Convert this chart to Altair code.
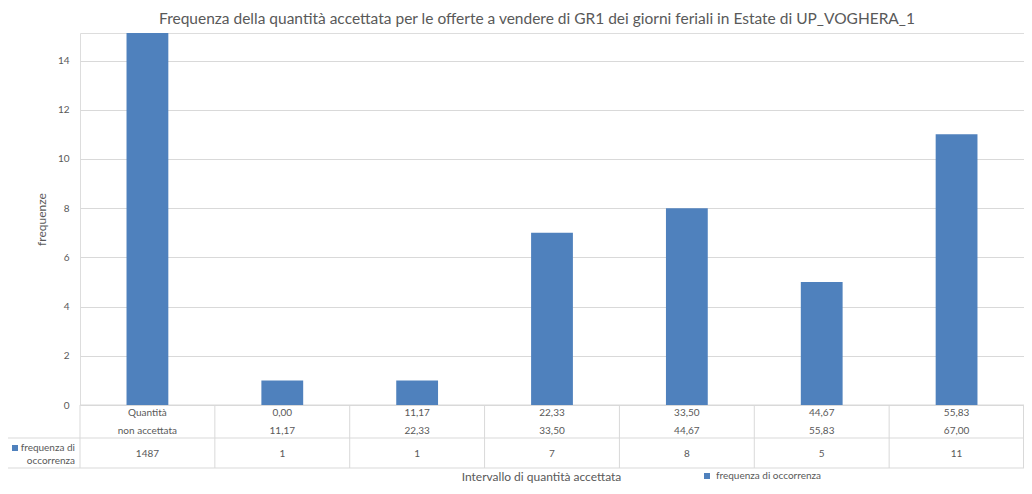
import altair as alt
import pandas as pd

# ---- data ----
cats = ["c0", "c1", "c2", "c3", "c4", "c5", "c6"]
lo_labels = ["Quantità", "0,00", "11,17", "22,33", "33,50", "44,67", "55,83"]
hi_labels = ["non accettata", "11,17", "22,33", "33,50", "44,67", "55,83", "67,00"]
counts = [1487, 1, 1, 7, 8, 5, 11]
series_name = "frequenza di occorrenza"
y_ticks = [0, 2, 4, 6, 8, 10, 12, 14]

df = pd.DataFrame({"cat": cats, "lo": lo_labels, "hi": hi_labels,
                   "n": counts, "series": [series_name] * len(cats)})
one = pd.DataFrame({"series": [series_name]})

W, H = 944, 372
FONT = "Lato"
TXT = "#595959"
GRID = "#d9d9d9"
BLUE = "#4f81bd"

xenc = alt.X("cat:N", sort=cats,
             scale=alt.Scale(paddingInner=0, paddingOuter=0),
             axis=alt.Axis(labels=False, ticks=False, domain=False, grid=False,
                           title="Intervallo di quantità accettata",
                           titleFont=FONT, titleFontSize=12, titleFontWeight="normal",
                           titleColor=TXT, titlePadding=66, titleX=461))

base = alt.Chart(df)

bars = base.mark_bar(clip=True, width=alt.RelativeBandSize(0.31)).encode(
    x=xenc,
    y=alt.Y("n:Q", scale=alt.Scale(domain=[0, 15.12]),
            axis=alt.Axis(values=y_ticks, title="frequenze", titleFont=FONT,
                          titleFontSize=12, titleFontWeight="normal", titleColor=TXT,
                          titlePadding=9, labelFont=FONT, labelFontSize=10,
                          labelColor=TXT, labelPadding=11, ticks=False, domain=False,
                          grid=True, gridColor=GRID)),
    color=alt.Color("series:N", scale=alt.Scale(range=[BLUE]),
                    legend=alt.Legend(orient="none", legendX=622, legendY=H + 66,
                                      title=None, symbolType="square", symbolSize=36,
                                      symbolStrokeWidth=0,
                                      labelFont=FONT, labelFontSize=10, labelColor=TXT)),
)

txt = dict(font=FONT, fontSize=10, color=TXT)
head1 = base.mark_text(**txt).encode(x=alt.X("cat:N", sort=cats), y=alt.value(H + 8), text="lo:N")
head2 = base.mark_text(**txt).encode(x=alt.X("cat:N", sort=cats), y=alt.value(H + 26), text="hi:N")
cnt = base.mark_text(**txt).encode(x=alt.X("cat:N", sort=cats), y=alt.value(H + 49),
                                   text=alt.Text("n:Q", format="d"))

vlines = base.mark_rule(color=GRID, strokeWidth=1).encode(
    x=alt.X("cat:N", sort=cats, bandPosition=0), y=alt.value(H), y2=alt.value(H + 63))

oc = alt.Chart(one)
vright = oc.mark_rule(color=GRID).encode(x=alt.value(W - 0.5), y=alt.value(H), y2=alt.value(H + 63))
h0 = oc.mark_rule(color=GRID).encode(x=alt.value(0), x2=alt.value(W), y=alt.value(H))
h1 = oc.mark_rule(color=GRID).encode(x=alt.value(-72), x2=alt.value(W), y=alt.value(H + 33))
h2 = oc.mark_rule(color=GRID).encode(x=alt.value(-72), x2=alt.value(W), y=alt.value(H + 63))

lsq = oc.mark_square(color=BLUE, size=36, opacity=1).encode(x=alt.value(-65), y=alt.value(H + 43))
ltxt = oc.mark_text(font=FONT, fontSize=10, color=TXT, align="right", lineHeight=13,
                    baseline="middle").encode(
    x=alt.value(-5), y=alt.value(H + 43), text=alt.value(["frequenza di", "occorrenza"]))

chart = alt.layer(h0, h1, h2, vlines, vright, bars, head1, head2, cnt, lsq, ltxt).properties(
    width=W, height=H,
    autosize=alt.AutoSizeParams(type="none"),
    padding={"left": 72, "top": 25, "right": 0, "bottom": 81},
    title=alt.TitleParams(
        "Frequenza della quantità accettata per le offerte a vendere di GR1 dei giorni feriali in Estate di UP_VOGHERA_1",
        font=FONT, fontSize=15.5, fontWeight="normal", color=TXT, anchor="middle",
        dx=-15, offset=6),
).configure_view(stroke=None).configure(background="white")

chart.save("out.html", embed_options={"renderer": "svg", "actions": False})
